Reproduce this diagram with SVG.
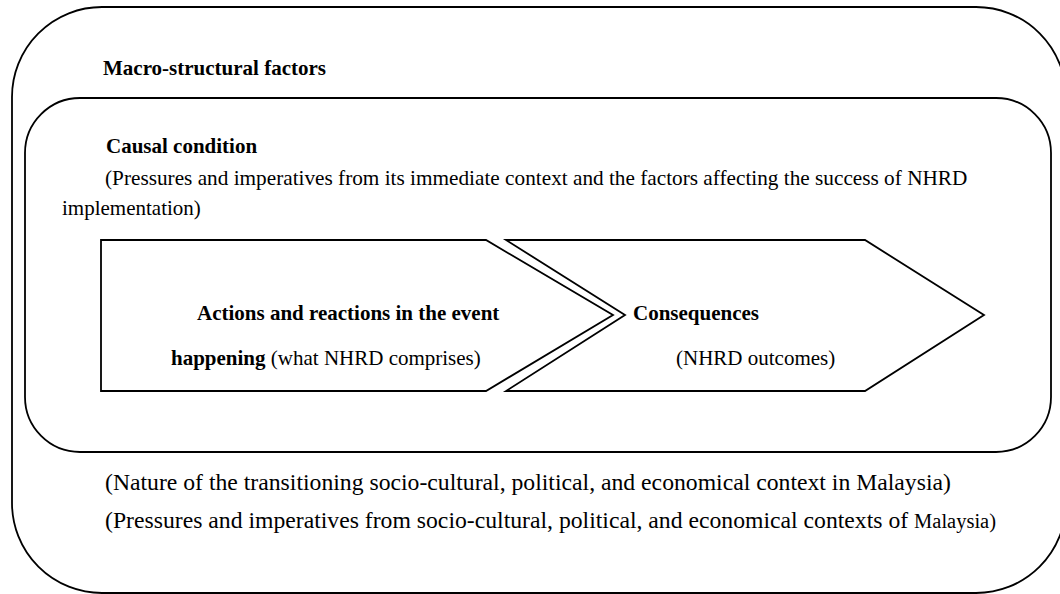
<svg xmlns="http://www.w3.org/2000/svg" width="1060" height="594" viewBox="0 0 1060 594">
<style>
.box{fill:none;stroke:#000;stroke-width:1.8}
.shape{fill:#fff;stroke:#000;stroke-width:1.8;stroke-linejoin:miter}
text{font-family:"Liberation Serif","Times New Roman",serif;font-size:21px;fill:#000}
.b{font-weight:bold}
.big{font-size:23.7px}
.mid{font-size:21.25px}
</style>
<rect width="1060" height="594" fill="#fff"/>
<g id="macro">
<rect class="box" x="12" y="7" width="1054" height="586" rx="90" ry="90"/>
<text class="b" x="103" y="75">Macro-structural factors</text>
<text class="big" x="105" y="490">(Nature of the transitioning socio-cultural, political, and economical context in Malaysia)</text>
<text class="big" x="105" y="528">(Pressures and imperatives from socio-cultural, political, and economical contexts of <tspan font-size="20.5">Malaysia)</tspan></text>
</g>
<g id="causal">
<rect class="box" x="25" y="98" width="1026" height="354" rx="55" ry="55"/>
<text class="b" x="106" y="153">Causal condition</text>
<text class="mid" x="105" y="185">(Pressures and imperatives from its immediate context and the factors affecting the success of NHRD</text>
<text x="62" y="215">implementation)</text>
</g>
<g id="actions">
<polygon class="shape" points="101,240 486,240 613,315 486,391 101,391"/>
<text class="b" x="197" y="320">Actions and reactions in the event</text>
<text x="171" y="365"><tspan class="b">happening</tspan> (what NHRD comprises)</text>
</g>
<g id="consequences">
<polygon class="shape" points="506,240 865,240 984,315 865,391 506,391 625,315"/>
<text class="b" x="633" y="320">Consequences</text>
<text x="676" y="365">(NHRD outcomes)</text>
</g>
<g id="connectors"></g>
</svg>
